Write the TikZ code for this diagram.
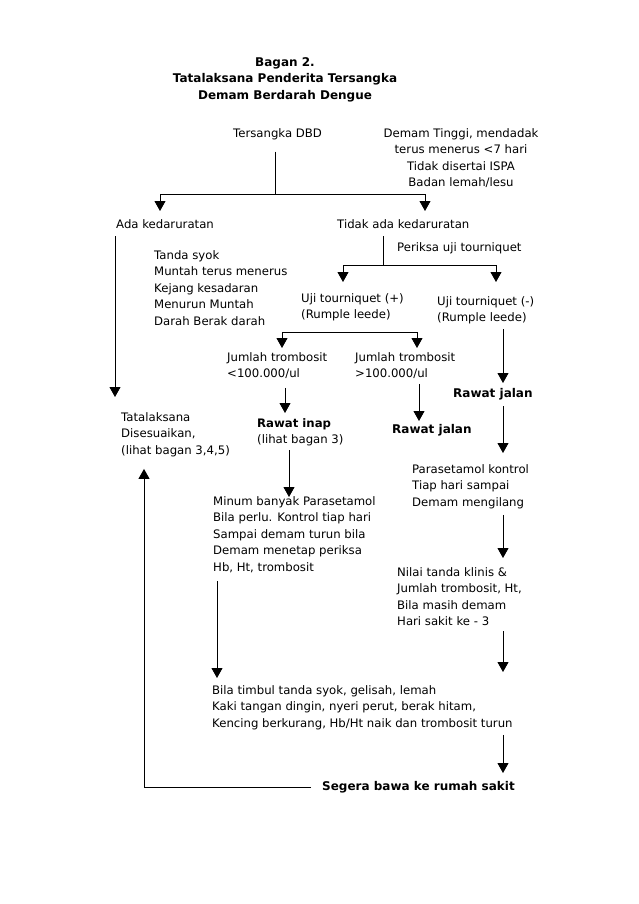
\documentclass[tikz,border=0pt]{standalone}
\usepackage{fontspec}
\setmainfont{DejaVu Sans}
\usetikzlibrary{positioning, arrows.meta}

\begin{document}
\begin{tikzpicture}[
    x=1pt, y=-1pt,
    every node/.style={font=\fontsize{11.7}{16.6}\selectfont},
    txt/.style={align=left, anchor=north west, inner xsep=0pt, inner ysep=3pt},
    ctxt/.style={align=center, anchor=north, inner xsep=0pt, inner ysep=3pt},
    bld/.style={font=\fontsize{12}{16.6}\selectfont\bfseries},
    line/.style={line width=0.9pt},
    arr/.style={line width=0.9pt, -{Triangle[width=11pt,length=10pt]}}
]
    \useasboundingbox (0,0) rectangle (638,904);

    \node[ctxt, bld] (judul) at (285,54) {Bagan 2.\\Tatalaksana Penderita Tersangka\\Demam Berdarah Dengue};
    \node[txt] (tdbd) at (233,125) {Tersangka DBD};
    \node[ctxt] (gejala) at (461,125) {Demam Tinggi, mendadak\\terus menerus <7 hari\\Tidak disertai ISPA\\Badan lemah/lesu};
    \node[txt] (ada) at (116,216) {Ada kedaruratan};
    \node[txt] (tidak) at (337,216) {Tidak ada kedaruratan};
    \node[txt] (periksa) at (397,239) {Periksa uji tourniquet};
    \node[txt] (tanda) at (154,247) {Tanda syok\\Muntah terus menerus\\Kejang kesadaran\\Menurun Muntah\\Darah Berak darah};
    \node[txt] (upos) at (301,290) {Uji tourniquet (+)\\(Rumple leede)};
    \node[txt] (uneg) at (437,293) {Uji tourniquet (-)\\(Rumple leede)};
    \node[txt] (jrendah) at (227,349) {Jumlah trombosit\\<100.000/ul};
    \node[txt] (jtinggi) at (355,349) {Jumlah trombosit\\>100.000/ul};
    \node[txt, bld] (jalan1) at (453,385) {Rawat jalan};
    \node[txt] (inap) at (257,415) {\textbf{Rawat inap}\\(lihat bagan 3)};
    \node[txt, bld] (jalan2) at (392,421) {Rawat jalan};
    \node[txt] (sesuai) at (121,409) {Tatalaksana\\Disesuaikan,\\(lihat bagan 3,4,5)};
    \node[txt] (parasetamol) at (412,461) {Parasetamol kontrol\\Tiap hari sampai\\Demam mengilang};
    \node[txt] (minum) at (213,493) {Minum banyak Parasetamol\\Bila perlu. Kontrol tiap hari\\Sampai demam turun bila\\Demam menetap periksa\\Hb, Ht, trombosit};
    \node[txt] (klinis) at (397,564) {Nilai tanda klinis \&\\Jumlah trombosit, Ht,\\Bila masih demam\\Hari sakit ke - 3};
    \node[txt] (syok) at (212,682) {Bila timbul tanda syok, gelisah, lemah\\Kaki tangan dingin, nyeri perut, berak hitam,\\Kencing berkurang, Hb/Ht naik dan trombosit turun};
    \node[txt, bld] (rs) at (322,778) {Segera bawa ke rumah sakit};

    \coordinate (b1) at (275,194);
    \coordinate (b1L) at (160,194);
    \coordinate (b1R) at (425,194);
    \coordinate (b2) at (383,265);
    \coordinate (b2L) at (343,265);
    \coordinate (b2R) at (496,265);
    \coordinate (b3L) at (282,332);
    \coordinate (b3R) at (417,332);
    \coordinate (kA) at (115,0);
    \coordinate (kB) at (285,0);
    \coordinate (kC) at (419,0);
    \coordinate (kD) at (503,0);
    \coordinate (kE) at (289,0);
    \coordinate (kF) at (217,0);
    \coordinate (kG) at (144,0);

    \draw[line, shorten <=9pt] (tdbd.south -| b1) -- (b1);
    \draw[line] (b1L) -- (b1R);
    \draw[arr, shorten >=5pt] (b1L) -- (b1L |- ada.north);
    \draw[arr, shorten >=5pt] (b1R) -- (b1R |- tidak.north);
    \draw[arr, shorten <=5pt, shorten >=12pt] (ada.south -| kA) -- (sesuai.north -| kA);
    \draw[line, shorten <=5pt] (tidak.south -| b2) -- (b2);
    \draw[line] (b2L) -- (b2R);
    \draw[arr, shorten >=8pt] (b2L) -- (b2L |- upos.north);
    \draw[arr, shorten >=11pt] (b2R) -- (b2R |- uneg.north);
    \draw[line] (b3L) -- (b3R);
    \draw[arr, shorten >=1pt] (b3L) -- (b3L |- jrendah.north);
    \draw[arr, shorten >=1pt] (b3R) -- (b3R |- jtinggi.north);
    \draw[arr, shorten <=2pt, shorten >=2pt] (uneg.south -| kD) -- (jalan1.north -| kD);
    \draw[arr, shorten <=6pt, shorten >=2pt] (jrendah.south -| kB) -- (inap.north -| kB);
    \draw[arr, shorten <=2pt] (jtinggi.south -| kC) -- (jalan2.north -| kC);
    \draw[arr, shorten <=3pt, shorten >=8pt] (jalan1.south -| kD) -- (parasetamol.north -| kD);
    \draw[arr, shorten <=1pt, shorten >=-4pt] (inap.south -| kE) -- (minum.north -| kE);
    \draw[arr, shorten <=3pt, shorten >=6pt] (parasetamol.south -| kD) -- (klinis.north -| kD);
    \draw[arr, shorten <=5pt, shorten >=4pt] (minum.south -| kF) -- (syok.north -| kF);
    \draw[arr, shorten <=2pt, shorten >=10pt] (klinis.south -| kD) -- (syok.north -| kD);
    \draw[arr, shorten <=2pt, shorten >=5pt] (syok.south -| kD) -- (rs.north -| kD);
    \draw[arr, shorten <=11pt, shorten >=9pt] (rs.west) -- (rs.west -| kG) -- (sesuai.south -| kG);
\end{tikzpicture}
\end{document}
